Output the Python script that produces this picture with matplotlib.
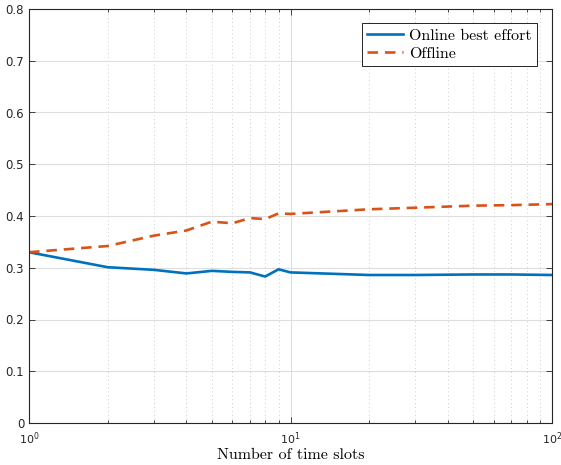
import numpy as np
import matplotlib
matplotlib.use("Agg")
import matplotlib.pyplot as plt
from matplotlib.ticker import LogLocator, NullFormatter

# data
slots = [1, 2, 3, 4, 5, 6, 7, 8, 9, 10, 20, 30, 50, 70, 100]
online = [0.330, 0.301, 0.296, 0.289, 0.294, 0.292, 0.291, 0.283, 0.297, 0.291,
          0.286, 0.286, 0.287, 0.287, 0.286]
offline = [0.330, 0.342, 0.362, 0.372, 0.389, 0.386, 0.396, 0.394, 0.405, 0.404,
           0.413, 0.416, 0.420, 0.421, 0.423]
y_ticks = [0, 0.1, 0.2, 0.3, 0.4, 0.5, 0.6, 0.7, 0.8]
y_labels = ["0", "0.1", "0.2", "0.3", "0.4", "0.5", "0.6", "0.7", "0.8"]

plt.rcParams["mathtext.fontset"] = "dejavusans"
serif = "cmr10"

fig = plt.figure(figsize=(5.61, 4.65), dpi=100)
ax = fig.add_axes([29 / 561, 1 - 423 / 465, 523 / 561, 414 / 465])

ax.plot(slots, online, color="#0072BD", lw=1.9, label="Online best effort")
ax.plot(slots, offline, color="#D95319", lw=1.9, ls=(0, (4, 2.6)), label="Offline")

ax.set_xscale("log")
ax.set_xlim(1, 100)
ax.set_ylim(0, 0.8)
ax.set_yticks(y_ticks)
ax.set_yticklabels(y_labels)
ax.xaxis.set_minor_locator(LogLocator(base=10, subs=np.arange(2, 10)))
ax.xaxis.set_minor_formatter(NullFormatter())

ax.grid(True, which="major", color="#dedede", lw=0.8)
ax.grid(True, which="minor", axis="x", color="#cfcfcf", lw=0.7, ls=(0, (1, 3)))
ax.set_axisbelow(True)

ax.tick_params(which="both", direction="in", top=True, right=True,
               labelsize=8.5, colors="#262626", width=0.6)
ax.tick_params(which="major", length=4)
ax.tick_params(which="minor", length=2)
ax.tick_params(axis="x", pad=5, labelsize=8)
for s in ax.spines.values():
    s.set_color("#262626")
    s.set_linewidth(0.8)

ax.set_xlabel("Number of time slots", fontfamily=serif, fontsize=11.5, labelpad=1)

leg = ax.legend(loc="upper right", bbox_to_anchor=(0.987, 0.986),
                prop={"family": serif, "size": 11.5}, fancybox=False,
                framealpha=1, edgecolor="black", borderpad=0.35,
                handlelength=2.2, labelspacing=0.25, handletextpad=0.4)
leg.get_frame().set_linewidth(0.6)

fig.savefig("out.png", dpi=100)
